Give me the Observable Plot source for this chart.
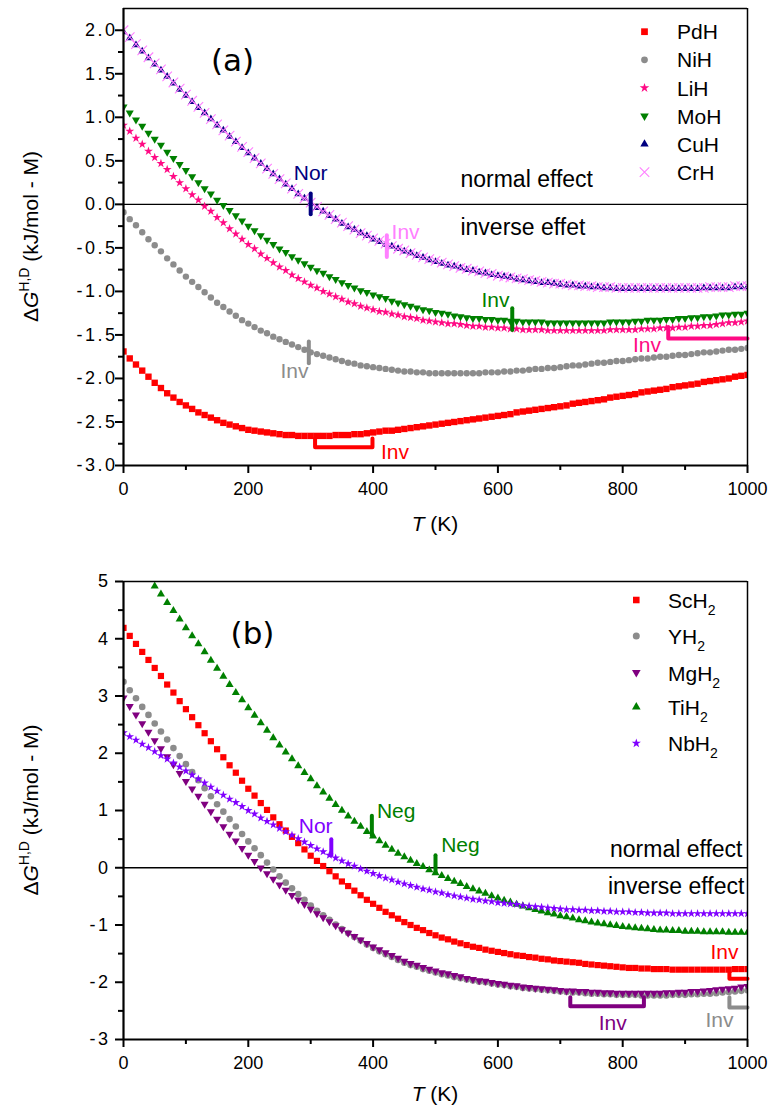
<!DOCTYPE html>
<html><head><meta charset="utf-8">
<script src="https://cdn.jsdelivr.net/npm/d3@7"></script>
<script src="https://cdn.jsdelivr.net/npm/@observablehq/plot@0.6"></script>
<style>
body{margin:0;background:#fff;}
#wrap{position:relative;width:768px;height:1112px;background:#fff;}
#wrap svg{position:absolute;left:0;}
</style></head><body><div id="wrap"></div>
<script>
// ---------- data ----------
const T = [0,10,20,30,40,50,60,70,80,90,100,110,120,130,140,150,160,170,180,190,200,210,220,230,240,250,260,270,280,290,300,310,320,330,340,350,360,370,380,390,400,410,420,430,440,450,460,470,480,490,500,510,520,530,540,550,560,570,580,590,600,610,620,630,640,650,660,670,680,690,700,710,720,730,740,750,760,770,780,790,800,810,820,830,840,850,860,870,880,890,900,910,920,930,940,950,960,970,980,990,1000];
const T_TiH2 = [50,60,70,80,90,100,110,120,130,140,150,160,170,180,190,200,210,220,230,240,250,260,270,280,290,300,310,320,330,340,350,360,370,380,390,400,410,420,430,440,450,460,470,480,490,500,510,520,530,540,550,560,570,580,590,600,610,620,630,640,650,660,670,680,690,700,710,720,730,740,750,760,770,780,790,800,810,820,830,840,850,860,870,880,890,900,910,920,930,940,950,960,970,980,990,1000];

// panel (a)
const PdH = [-1.69,-1.77,-1.84,-1.91,-1.98,-2.05,-2.11,-2.17,-2.22,-2.27,-2.31,-2.35,-2.39,-2.42,-2.45,-2.48,-2.51,-2.53,-2.55,-2.57,-2.59,-2.60,-2.61,-2.62,-2.63,-2.64,-2.65,-2.65,-2.66,-2.66,-2.66,-2.66,-2.66,-2.66,-2.65,-2.65,-2.65,-2.64,-2.64,-2.63,-2.62,-2.61,-2.60,-2.60,-2.59,-2.58,-2.57,-2.56,-2.55,-2.54,-2.53,-2.52,-2.51,-2.50,-2.49,-2.48,-2.47,-2.46,-2.45,-2.44,-2.43,-2.42,-2.41,-2.39,-2.38,-2.37,-2.36,-2.35,-2.34,-2.33,-2.32,-2.31,-2.29,-2.28,-2.27,-2.26,-2.25,-2.24,-2.22,-2.21,-2.20,-2.19,-2.18,-2.16,-2.15,-2.14,-2.13,-2.12,-2.10,-2.09,-2.08,-2.07,-2.06,-2.04,-2.03,-2.02,-2.01,-2.00,-1.98,-1.97,-1.96];
const NiH = [-0.09,-0.17,-0.24,-0.32,-0.40,-0.47,-0.54,-0.62,-0.69,-0.76,-0.83,-0.89,-0.95,-1.01,-1.07,-1.13,-1.18,-1.23,-1.28,-1.33,-1.37,-1.41,-1.45,-1.48,-1.52,-1.55,-1.58,-1.61,-1.64,-1.67,-1.70,-1.72,-1.74,-1.76,-1.78,-1.80,-1.82,-1.83,-1.85,-1.86,-1.87,-1.88,-1.89,-1.90,-1.91,-1.92,-1.92,-1.93,-1.93,-1.94,-1.94,-1.94,-1.94,-1.94,-1.94,-1.94,-1.94,-1.94,-1.93,-1.93,-1.93,-1.92,-1.92,-1.91,-1.91,-1.90,-1.89,-1.89,-1.88,-1.88,-1.87,-1.86,-1.85,-1.85,-1.84,-1.83,-1.82,-1.82,-1.81,-1.80,-1.80,-1.79,-1.78,-1.77,-1.77,-1.76,-1.75,-1.75,-1.74,-1.73,-1.73,-1.72,-1.71,-1.70,-1.70,-1.69,-1.68,-1.67,-1.67,-1.66,-1.65];
const LiH = [0.91,0.84,0.76,0.69,0.61,0.54,0.47,0.40,0.32,0.25,0.18,0.11,0.05,-0.02,-0.08,-0.15,-0.21,-0.28,-0.34,-0.40,-0.46,-0.51,-0.57,-0.62,-0.67,-0.72,-0.76,-0.81,-0.85,-0.89,-0.93,-0.96,-1.00,-1.03,-1.06,-1.09,-1.12,-1.14,-1.17,-1.19,-1.21,-1.23,-1.24,-1.26,-1.27,-1.29,-1.30,-1.31,-1.33,-1.34,-1.35,-1.36,-1.37,-1.37,-1.38,-1.39,-1.40,-1.40,-1.41,-1.41,-1.42,-1.42,-1.43,-1.43,-1.44,-1.44,-1.44,-1.44,-1.45,-1.45,-1.45,-1.45,-1.45,-1.45,-1.45,-1.45,-1.45,-1.45,-1.44,-1.44,-1.44,-1.44,-1.44,-1.43,-1.43,-1.43,-1.42,-1.42,-1.42,-1.41,-1.41,-1.40,-1.40,-1.39,-1.39,-1.38,-1.37,-1.36,-1.36,-1.35,-1.34];
const MoH = [1.12,1.05,0.97,0.90,0.82,0.75,0.68,0.60,0.53,0.46,0.39,0.32,0.25,0.18,0.12,0.05,-0.01,-0.07,-0.13,-0.19,-0.25,-0.30,-0.36,-0.41,-0.46,-0.51,-0.55,-0.60,-0.64,-0.68,-0.72,-0.76,-0.79,-0.83,-0.86,-0.90,-0.93,-0.96,-0.99,-1.01,-1.04,-1.06,-1.08,-1.11,-1.13,-1.15,-1.17,-1.19,-1.21,-1.22,-1.24,-1.25,-1.26,-1.28,-1.29,-1.30,-1.31,-1.31,-1.32,-1.32,-1.33,-1.33,-1.34,-1.34,-1.35,-1.35,-1.35,-1.35,-1.36,-1.36,-1.36,-1.36,-1.36,-1.36,-1.36,-1.36,-1.36,-1.36,-1.35,-1.35,-1.35,-1.35,-1.34,-1.34,-1.33,-1.33,-1.33,-1.32,-1.32,-1.31,-1.31,-1.30,-1.30,-1.29,-1.29,-1.28,-1.27,-1.27,-1.26,-1.26,-1.25];
const CuH = [1.98,1.91,1.83,1.76,1.68,1.61,1.54,1.47,1.39,1.32,1.25,1.18,1.11,1.05,0.98,0.91,0.85,0.78,0.72,0.65,0.59,0.53,0.47,0.41,0.35,0.29,0.23,0.18,0.12,0.07,0.01,-0.04,-0.08,-0.13,-0.17,-0.22,-0.26,-0.29,-0.33,-0.36,-0.40,-0.43,-0.46,-0.48,-0.51,-0.54,-0.56,-0.59,-0.61,-0.64,-0.66,-0.68,-0.70,-0.71,-0.73,-0.75,-0.76,-0.78,-0.79,-0.81,-0.82,-0.83,-0.84,-0.86,-0.87,-0.88,-0.89,-0.90,-0.90,-0.91,-0.92,-0.93,-0.93,-0.94,-0.94,-0.95,-0.95,-0.96,-0.96,-0.97,-0.97,-0.97,-0.97,-0.97,-0.97,-0.97,-0.97,-0.97,-0.97,-0.97,-0.97,-0.97,-0.97,-0.96,-0.96,-0.96,-0.96,-0.96,-0.95,-0.95,-0.95];
const CrH = [2.00,1.92,1.84,1.77,1.69,1.62,1.55,1.47,1.40,1.33,1.26,1.19,1.12,1.05,0.98,0.92,0.85,0.79,0.72,0.66,0.60,0.53,0.47,0.41,0.35,0.29,0.24,0.18,0.12,0.07,0.02,-0.03,-0.08,-0.12,-0.17,-0.21,-0.25,-0.29,-0.33,-0.36,-0.39,-0.42,-0.45,-0.48,-0.51,-0.53,-0.56,-0.58,-0.61,-0.63,-0.65,-0.67,-0.69,-0.71,-0.73,-0.74,-0.76,-0.77,-0.79,-0.80,-0.82,-0.83,-0.84,-0.85,-0.86,-0.87,-0.88,-0.89,-0.90,-0.91,-0.91,-0.92,-0.93,-0.93,-0.94,-0.94,-0.95,-0.95,-0.95,-0.96,-0.96,-0.96,-0.96,-0.96,-0.96,-0.96,-0.96,-0.96,-0.96,-0.96,-0.96,-0.96,-0.96,-0.96,-0.95,-0.95,-0.95,-0.95,-0.94,-0.94,-0.94];

// panel (b)
const ScH2 = [4.19,4.05,3.91,3.77,3.63,3.49,3.35,3.20,3.06,2.91,2.77,2.63,2.49,2.35,2.21,2.07,1.93,1.79,1.66,1.52,1.38,1.26,1.13,1.01,0.88,0.76,0.65,0.54,0.43,0.32,0.21,0.12,0.03,-0.06,-0.15,-0.24,-0.32,-0.40,-0.48,-0.56,-0.63,-0.70,-0.77,-0.83,-0.89,-0.95,-1.00,-1.05,-1.09,-1.14,-1.18,-1.22,-1.25,-1.29,-1.32,-1.35,-1.38,-1.40,-1.43,-1.45,-1.47,-1.49,-1.51,-1.53,-1.54,-1.56,-1.57,-1.59,-1.60,-1.62,-1.63,-1.64,-1.65,-1.66,-1.68,-1.69,-1.70,-1.71,-1.72,-1.73,-1.74,-1.75,-1.75,-1.76,-1.76,-1.77,-1.77,-1.77,-1.78,-1.78,-1.78,-1.78,-1.78,-1.78,-1.78,-1.78,-1.78,-1.78,-1.77,-1.77,-1.77];
const YH2 = [3.25,3.10,2.96,2.81,2.67,2.52,2.38,2.24,2.09,1.95,1.81,1.67,1.53,1.39,1.25,1.11,0.98,0.85,0.72,0.59,0.46,0.34,0.22,0.09,-0.03,-0.15,-0.26,-0.36,-0.46,-0.56,-0.66,-0.75,-0.83,-0.91,-0.99,-1.07,-1.14,-1.21,-1.27,-1.34,-1.40,-1.46,-1.51,-1.56,-1.61,-1.66,-1.70,-1.73,-1.77,-1.80,-1.83,-1.86,-1.88,-1.91,-1.93,-1.95,-1.97,-1.99,-2.00,-2.02,-2.04,-2.05,-2.07,-2.08,-2.10,-2.11,-2.12,-2.13,-2.14,-2.15,-2.16,-2.17,-2.18,-2.18,-2.19,-2.20,-2.20,-2.21,-2.21,-2.22,-2.22,-2.22,-2.22,-2.23,-2.23,-2.23,-2.23,-2.23,-2.22,-2.22,-2.22,-2.21,-2.21,-2.20,-2.20,-2.19,-2.18,-2.17,-2.16,-2.15,-2.14];
const MgH2 = [2.97,2.82,2.67,2.52,2.37,2.22,2.08,1.94,1.80,1.65,1.51,1.38,1.25,1.11,0.98,0.85,0.72,0.59,0.47,0.34,0.22,0.11,0.00,-0.10,-0.20,-0.30,-0.39,-0.48,-0.56,-0.64,-0.72,-0.80,-0.87,-0.94,-1.01,-1.08,-1.14,-1.20,-1.26,-1.32,-1.38,-1.43,-1.48,-1.53,-1.58,-1.63,-1.67,-1.70,-1.74,-1.77,-1.80,-1.83,-1.85,-1.88,-1.90,-1.93,-1.95,-1.97,-1.98,-2.00,-2.02,-2.03,-2.05,-2.06,-2.08,-2.09,-2.10,-2.11,-2.12,-2.13,-2.14,-2.15,-2.15,-2.16,-2.16,-2.17,-2.17,-2.18,-2.18,-2.19,-2.19,-2.19,-2.19,-2.19,-2.19,-2.19,-2.19,-2.18,-2.18,-2.17,-2.17,-2.16,-2.16,-2.15,-2.14,-2.13,-2.12,-2.11,-2.10,-2.08,-2.07];
const TiH2 = [4.92,4.78,4.63,4.49,4.34,4.19,4.05,3.91,3.77,3.62,3.48,3.34,3.20,3.06,2.93,2.79,2.66,2.53,2.40,2.27,2.14,2.02,1.90,1.78,1.66,1.55,1.43,1.32,1.21,1.10,1.00,0.90,0.81,0.72,0.63,0.55,0.47,0.39,0.32,0.25,0.19,0.13,0.07,0.02,-0.04,-0.09,-0.14,-0.19,-0.24,-0.28,-0.33,-0.37,-0.41,-0.45,-0.49,-0.53,-0.57,-0.60,-0.64,-0.67,-0.70,-0.73,-0.76,-0.79,-0.81,-0.84,-0.86,-0.88,-0.91,-0.93,-0.95,-0.97,-0.98,-1.00,-1.01,-1.03,-1.04,-1.05,-1.06,-1.07,-1.08,-1.09,-1.09,-1.10,-1.10,-1.11,-1.11,-1.11,-1.12,-1.12,-1.12,-1.12,-1.13,-1.13,-1.13,-1.13];
const NbH2 = [2.36,2.29,2.23,2.16,2.10,2.03,1.96,1.90,1.83,1.76,1.69,1.62,1.55,1.48,1.41,1.34,1.27,1.20,1.14,1.07,1.00,0.94,0.87,0.81,0.75,0.69,0.63,0.57,0.51,0.45,0.39,0.33,0.28,0.22,0.17,0.12,0.07,0.03,-0.02,-0.06,-0.10,-0.14,-0.18,-0.21,-0.25,-0.28,-0.31,-0.34,-0.37,-0.39,-0.42,-0.44,-0.47,-0.49,-0.51,-0.53,-0.55,-0.56,-0.58,-0.59,-0.61,-0.62,-0.63,-0.64,-0.66,-0.67,-0.68,-0.69,-0.70,-0.71,-0.72,-0.73,-0.73,-0.74,-0.74,-0.75,-0.75,-0.76,-0.76,-0.77,-0.77,-0.77,-0.78,-0.78,-0.79,-0.79,-0.79,-0.79,-0.80,-0.80,-0.80,-0.80,-0.80,-0.80,-0.80,-0.80,-0.80,-0.80,-0.80,-0.80,-0.80];

// axes / ticks
const xDomain = [0, 1000];
const xTicks = [0, 200, 400, 600, 800, 1000];
const xMinor = [100, 300, 500, 700, 900];
const yDomainA = [-3, 2.25];
const yTicksA = [-3, -2.5, -2, -1.5, -1, -0.5, 0, 0.5, 1, 1.5, 2];
const yMinorA = [-2.75, -2.25, -1.75, -1.25, -0.75, -0.25, 0.25, 0.75, 1.25, 1.75];
const yDomainB = [-3, 5];
const yTicksB = [-3, -2, -1, 0, 1, 2, 3, 4, 5];
const yMinorB = [-2.5, -1.5, -0.5, 0.5, 1.5, 2.5, 3.5, 4.5];
const zeroLine = [0];

// series descriptions
const seriesA = [
  {name: "PdH", T: T, values: PdH, symbol: "square",   color: "#ff0000", r: 3.6},
  {name: "NiH", T: T, values: NiH, symbol: "circle",   color: "#8c8c8c", r: 3.2},
  {name: "LiH", T: T, values: LiH, symbol: "star",     color: "#ff0a84", r: 2.8},
  {name: "MoH", T: T, values: MoH, symbol: "triangle", color: "#008000", r: 3.0, rotate: 180},
  {name: "CuH", T: T, values: CuH, symbol: "triangle", color: "#000080", r: 2.9},
  {name: "CrH", T: T, values: CrH, symbol: "times",    color: "#ff80ff", r: 4.4}
];
const seriesB = [
  {name: "ScH2", T: T, values: ScH2, symbol: "square",   color: "#ff0000", r: 3.5},
  {name: "YH2",  T: T, values: YH2,  symbol: "circle",   color: "#8c8c8c", r: 3.3},
  {name: "MgH2", T: T, values: MgH2, symbol: "triangle", color: "#800080", r: 3.0, rotate: 180},
  {name: "TiH2", T: T_TiH2, values: TiH2, symbol: "triangle", color: "#008000", r: 3.0},
  {name: "NbH2", T: T, values: NbH2, symbol: "star",     color: "#8000ff", r: 2.7}
];

// annotations (a)
const annTicksA = [
  {T: 300, y1: -0.12, y2: 0.12, color: "#000080"},
  {T: 422, y1: -0.61, y2: -0.36, color: "#ff80ff"},
  {T: 623, y1: -1.45, y2: -1.20, color: "#008000"},
  {T: 297, y1: -1.83, y2: -1.58, color: "#8c8c8c"}
];
const annBracketsA = [
  {id: "LiH", T: 873, G: -1.41, color: "#ff0a84"}, {id: "LiH", T: 873, G: -1.54, color: "#ff0a84"}, {id: "LiH", T: 1000, G: -1.54, color: "#ff0a84"},
  {id: "PdH", T: 307, G: -2.69, color: "#ff0000"}, {id: "PdH", T: 307, G: -2.79, color: "#ff0000"}, {id: "PdH", T: 399, G: -2.79, color: "#ff0000"}, {id: "PdH", T: 399, G: -2.69, color: "#ff0000"}
];
const annLabelsA = [
  {T: 300, G: 0.28, label: "Nor", color: "#000080"},
  {T: 452, G: -0.40, label: "Inv", color: "#ff80ff"},
  {T: 596, G: -1.18, label: "Inv", color: "#008000"},
  {T: 274, G: -2.00, label: "Inv", color: "#8c8c8c"},
  {T: 839, G: -1.70, label: "Inv", color: "#ff0a84"},
  {T: 435, G: -2.92, label: "Inv", color: "#ff0000"}
];
const effectLabelsA = [
  {T: 540, G: 0.20, label: "normal effect"},
  {T: 540, G: -0.355, label: "inverse effet"}
];

// annotations (b)
const annTicksB = [
  {T: 333, y1: 0.21, y2: 0.49, color: "#8000ff"},
  {T: 398, y1: 0.56, y2: 0.90, color: "#008000"},
  {T: 500, y1: -0.09, y2: 0.21, color: "#008000"}
];
const annBracketsB = [
  {id: "ScH2", T: 971, G: -1.82, color: "#ff0000"}, {id: "ScH2", T: 971, G: -1.94, color: "#ff0000"}, {id: "ScH2", T: 1000, G: -1.94, color: "#ff0000"},
  {id: "MgH2", T: 716, G: -2.26, color: "#800080"}, {id: "MgH2", T: 716, G: -2.42, color: "#800080"}, {id: "MgH2", T: 834, G: -2.42, color: "#800080"}, {id: "MgH2", T: 834, G: -2.26, color: "#800080"},
  {id: "YH2", T: 971, G: -2.26, color: "#8c8c8c"}, {id: "YH2", T: 971, G: -2.44, color: "#8c8c8c"}, {id: "YH2", T: 1000, G: -2.44, color: "#8c8c8c"}
];
const annLabelsB = [
  {T: 308, G: 0.61, label: "Nor", color: "#8000ff"},
  {T: 437, G: 0.87, label: "Neg", color: "#008000"},
  {T: 540, G: 0.28, label: "Neg", color: "#008000"},
  {T: 963, G: -1.59, label: "Inv", color: "#ff0000"},
  {T: 784, G: -2.84, label: "Inv", color: "#800080"},
  {T: 955, G: -2.79, label: "Inv", color: "#8c8c8c"}
];
const effectLabelsB = [
  {T: 992, G: 0.19, label: "normal effect"},
  {T: 995, G: -0.46, label: "inverse effect"}
];

// ---------- drawing ----------
const FONT = "'Liberation Sans', Arial, Helvetica, sans-serif";

function dotMarks(list) {
  return list.map(s => Plot.dot(s.T.map((t, i) => ({T: t, G: s.values[i]})), {
    x: "T", y: "G", symbol: s.symbol, r: s.r, rotate: s.rotate || 0,
    fill: s.symbol === "times" ? "none" : s.color,
    stroke: s.symbol === "times" ? s.color : "none",
    strokeWidth: 1.1, clip: true
  }));
}

function panel({height, marginTop, marginBottom, yDomain, yTicks, yMinor, yFmt, yPad, series, ticks, brackets, labels, effects, effectAnchor}) {
  return Plot.plot({
    width: 768, height, marginLeft: 123, marginRight: 21, marginTop, marginBottom,
    x: {domain: xDomain}, y: {domain: yDomain},
    color: {type: "identity"},
    style: {fontFamily: FONT, fontSize: "18px", color: "black", background: "white", overflow: "visible"},
    marks: [
      Plot.ruleY(zeroLine, {stroke: "black", strokeWidth: 1.4}),
      ...dotMarks(series),
      Plot.ruleX(ticks, {x: "T", y1: "y1", y2: "y2", stroke: "color", strokeWidth: 4, strokeLinecap: "round"}),
      Plot.line(brackets, {x: "T", y: "G", z: "id", stroke: "color", strokeWidth: 4, strokeLinecap: "round", strokeLinejoin: "round"}),
      Plot.text(labels, {x: "T", y: "G", text: "label", fill: "color", fontSize: 21, lineAnchor: "bottom", textAnchor: "middle"}),
      Plot.text(effects, {x: "T", y: "G", text: "label", fill: "black", fontSize: 23, lineAnchor: "bottom", textAnchor: effectAnchor}),
      Plot.axisY({ticks: yTicks, tickSize: 8, tickPadding: yPad, tickFormat: yFmt, label: null, strokeWidth: 2, fontSize: 18}),
      Plot.axisY({ticks: yMinor, tickSize: 5, tickFormat: () => "", label: null, strokeWidth: 2}),
      Plot.axisX({ticks: xTicks, tickSize: 8, tickPadding: 9, tickFormat: d => String(d), label: null, strokeWidth: 2, fontSize: 18}),
      Plot.axisX({ticks: xMinor, tickSize: 5, tickFormat: () => "", label: null, strokeWidth: 2}),
      Plot.ruleX([xDomain[1]], {stroke: "black", strokeWidth: 1.5}),
      Plot.ruleY([yDomain[1]], {stroke: "black", strokeWidth: 1.5}),
      Plot.ruleX([xDomain[0]], {stroke: "black", strokeWidth: 2.2}),
      Plot.ruleY([yDomain[0]], {stroke: "black", strokeWidth: 2.2})
    ]
  });
}

const symMap = {square: d3.symbolSquare, circle: d3.symbolCircle, star: d3.symbolStar, triangle: d3.symbolTriangle, times: d3.symbolTimes};

function decorate(svg, {series, legendX, legendTextX, legendY, legendDy, sub, panelLabel, panelX, panelY, plotTop, plotBottom, xLabelY}) {
  const s = d3.select(svg);
  // widen y tick labels like the original
  s.selectAll('g[aria-label="y-axis tick label"] text').style("letter-spacing", "2.5px");
  // legend
  const g = s.append("g").attr("text-anchor", "start");
  series.forEach((it, i) => {
    const y = legendY[i];
    const rr = it.symbol === "times" ? it.r : it.r + 0.2;
    g.append("path").attr("d", d3.symbol().type(symMap[it.symbol]).size(Math.PI * rr * rr)())
      .attr("transform", `translate(${legendX},${y}) rotate(${it.rotate || 0})`)
      .attr("fill", it.symbol === "times" ? "none" : it.color)
      .attr("stroke", it.symbol === "times" ? it.color : "none")
      .attr("stroke-width", 1.1);
    const t = g.append("text").attr("x", legendTextX).attr("y", y + legendDy).attr("text-anchor", "start")
      .attr("font-family", FONT).attr("font-size", 21).attr("fill", "black");
    if (sub) {
      t.append("tspan").text(it.name.slice(0, -1));
      t.append("tspan").attr("font-size", 14).attr("dy", 7).text(it.name.slice(-1));
    } else t.append("tspan").text(it.name);
  });
  // panel label
  s.append("text").attr("x", panelX).attr("y", panelY).attr("text-anchor", "middle")
    .attr("font-family", "'DejaVu Sans', Verdana, sans-serif").attr("font-size", 31).attr("fill", "black").text(panelLabel);
  // x label
  const xl = s.append("text").attr("x", 435).attr("y", xLabelY).attr("text-anchor", "middle")
    .attr("font-family", FONT).attr("font-size", 21).attr("fill", "black");
  xl.append("tspan").attr("font-style", "italic").text("T");
  xl.append("tspan").text(" (K)");
  // y label
  const cy = (plotTop + plotBottom) / 2;
  const yl = s.append("text").attr("transform", `translate(38,${cy}) rotate(-90)`).attr("text-anchor", "middle")
    .attr("font-family", FONT).attr("font-size", 21).attr("fill", "black");
  yl.append("tspan").text("\u0394");
  yl.append("tspan").attr("font-style", "italic").text("G");
  yl.append("tspan").attr("font-size", 14).attr("dy", -9).text("H,D");
  yl.append("tspan").attr("dy", 9).text(" (kJ/mol - M)");
}

const wrap = document.getElementById("wrap");

const svgA = panel({
  height: 545, marginTop: 8, marginBottom: 80, yDomain: yDomainA, yTicks: yTicksA, yMinor: yMinorA,
  yFmt: d => d.toFixed(1), yPad: -2, series: seriesA, ticks: annTicksA, brackets: annBracketsA,
  labels: annLabelsA, effects: effectLabelsA, effectAnchor: "start"
});
svgA.style.top = "0px";
wrap.appendChild(svgA);
decorate(svgA, {series: seriesA, legendX: 644.5, legendTextX: 677, legendY: [31.7, 59.8, 87.9, 116, 144.1, 172.2], legendDy: 7.6,
  sub: false, panelLabel: "(a)", panelX: 232.5, panelY: 71, plotTop: 8, plotBottom: 465, xLabelY: 531});

const svgB = panel({
  height: 567, marginTop: 36, marginBottom: 73, yDomain: yDomainB, yTicks: yTicksB, yMinor: yMinorB,
  yFmt: d => String(d), yPad: 5, series: seriesB, ticks: annTicksB, brackets: annBracketsB,
  labels: annLabelsB, effects: effectLabelsB, effectAnchor: "end"
});
svgB.style.top = "545px";
wrap.appendChild(svgB);
decorate(svgB, {series: seriesB, legendX: 636.3, legendTextX: 668, legendY: [55, 91, 127.5, 162, 198.3], legendDy: 8,
  sub: true, panelLabel: "(b)", panelX: 252.5, panelY: 99, plotTop: 36, plotBottom: 494, xLabelY: 556});
</script>
</body></html>
